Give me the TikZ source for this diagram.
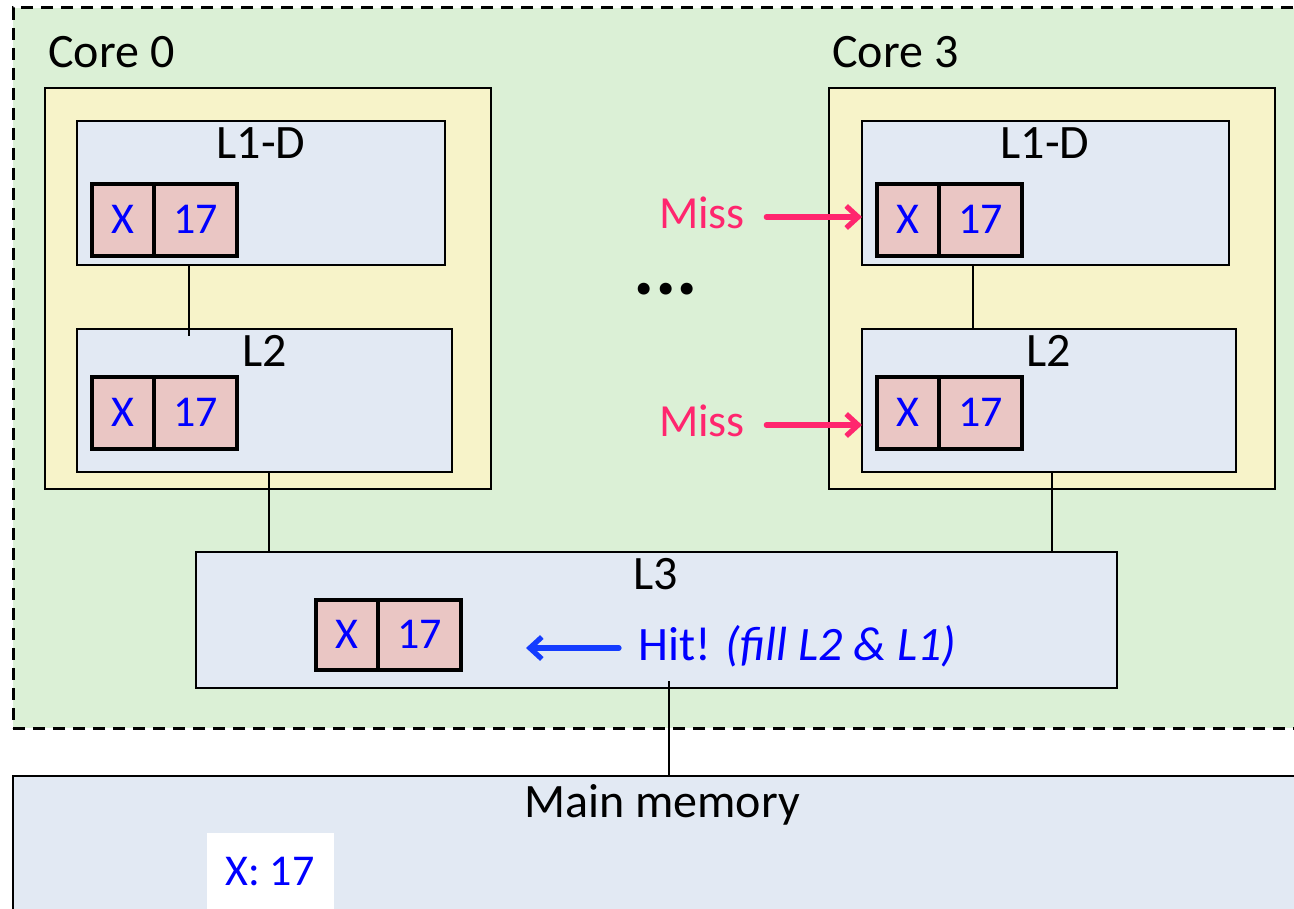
\documentclass[tikz,border=0pt]{standalone}
\usepackage{fontspec}
\setmainfont{Carlito}
\usetikzlibrary{arrows.meta}
\definecolor{chipgreen}{RGB}{219,240,214}
\definecolor{coreyellow}{RGB}{247,243,201}
\definecolor{cacheblue}{RGB}{226,233,243}
\definecolor{linepink}{RGB}{234,198,196}
\definecolor{misspink}{RGB}{255,38,110}
\definecolor{hitblue}{RGB}{20,60,255}
\tikzset{
  sz/.style 2 args={minimum width=#1*0.5pt,minimum height=#2*0.5pt},
  region/.style={draw=black,fill=chipgreen,dash pattern=on 6pt off 4pt,line width=1.5pt,inner sep=0pt,outer sep=0pt},
  corebox/.style={draw=black,fill=coreyellow,line width=1.2pt,inner sep=0pt,outer sep=0pt},
  cachebox/.style={draw=black,fill=cacheblue,line width=1.2pt,inner sep=0pt,outer sep=0pt},
  cell/.style={draw=black,fill=linepink,line width=2pt,inner sep=0pt,outer sep=0pt,text=blue,
    font=\fontsize{22}{26}\selectfont,text height=13.9pt,text depth=0pt},
  lbl/.style={inner sep=0pt,font=\fontsize{24}{28}\selectfont,text height=15.1pt,text depth=0pt},
  wire/.style={draw=black,line width=1pt},
  missarrow/.style={draw=misspink,line width=2.6pt,line cap=round,-{Straight Barb[length=6pt,width=11pt]}},
  hitarrow/.style={draw=hitblue,line width=2.6pt,line cap=round,-{Straight Barb[length=6pt,width=11pt]}}
}
\begin{document}
\begin{tikzpicture}[x=0.5pt,y=-0.5pt]
\useasboundingbox (0,0) rectangle (1294,909);

% chip area holding the cores and the shared L3
\node[region,sz={1300}{720},anchor=north west] (chip) at (13,8) {};

% main memory
\node[cachebox,line width=1.4pt,sz={1300}{160},anchor=north west] (mem) at (13,776) {};
\node[lbl] (memlbl) at (662,802) {Main memory};
\node[fill=white,inner sep=0pt,sz={127}{90},anchor=north west] (memslot) at (207,833) {};
\node[lbl,text=blue,font=\fontsize{22}{26}\selectfont,text height=13.9pt] (memval) at (270,872) {X: 17};

% core 0
\node[lbl,anchor=west] (core0lbl) at (48,52) {Core 0};
\node[corebox,sz={446}{401},anchor=north west] (core0) at (45,88) {};
\node[cachebox,sz={368}{144},anchor=north west] (l1d0) at (77,121) {};
\node[lbl] (l1d0lbl) at (261,143) {L1-D};
\node[cell,sz={62}{72},anchor=north west] (x10) at (92,184) {X};
\node[cell,sz={83}{72},anchor=north west] (v10) at (x10.north east) {17};
\node[cachebox,sz={375}{143},anchor=north west] (l2c0) at (77,329) {};
\node[lbl] (l2c0lbl) at (265,351) {L2};
\node[cell,sz={62}{72},anchor=north west] (x20) at (92,377) {X};
\node[cell,sz={83}{72},anchor=north west] (v20) at (x20.north east) {17};

% core 3
\node[lbl,anchor=west] (core3lbl) at (832,52) {Core 3};
\node[corebox,sz={446}{401},anchor=north west] (core3) at (829,88) {};
\node[cachebox,sz={367}{144},anchor=north west] (l1d3) at (862,121) {};
\node[lbl] (l1d3lbl) at (1045,143) {L1-D};
\node[cell,sz={62}{72},anchor=north west] (x13) at (877,184) {X};
\node[cell,sz={83}{72},anchor=north west] (v13) at (x13.north east) {17};
\node[cachebox,sz={374}{143},anchor=north west] (l2c3) at (862,329) {};
\node[lbl] (l2c3lbl) at (1049,351) {L2};
\node[cell,sz={62}{72},anchor=north west] (x23) at (877,377) {X};
\node[cell,sz={83}{72},anchor=north west] (v23) at (x23.north east) {17};

% shared L3
\node[cachebox,sz={921}{136},anchor=north west] (l3) at (196,552) {};
\node[lbl] (l3lbl) at (656,574) {L3};
\node[cell,sz={62}{70},anchor=north west] (x3) at (316,600) {X};
\node[cell,sz={83}{70},anchor=north west] (v3) at (x3.north east) {17};

% links between levels
\coordinate (tap01) at (189,336);
\coordinate (tap31) at (973,0);
\coordinate (tap02) at (269,0);
\coordinate (tap32) at (1052,0);
\coordinate (tapmem) at (669,681);
\draw[wire] (tap01 |- l1d0.south) -- (tap01);
\draw[wire] (tap31 |- l1d3.south) -- (tap31 |- l2c3.north);
\draw[wire] (tap02 |- l2c0.south) -- (tap02 |- l3.north);
\draw[wire] (tap32 |- l2c3.south) -- (tap32 |- l3.north);
\draw[wire] (tapmem) -- (tapmem |- mem.north);

% lookup annotations
\node[lbl,text=misspink,font=\fontsize{23}{27}\selectfont,text height=14.5pt] (miss1) at (702,214) {Miss};
\node[lbl,text=misspink,font=\fontsize{23}{27}\selectfont,text height=14.5pt] (miss2) at (702,422) {Miss};
\draw[missarrow] ([xshift=10.5pt,yshift=-1.5pt]miss1.east) -- ([yshift=-1.5pt]miss1.east -| l1d3.west);
\draw[missarrow] ([xshift=10.5pt,yshift=-1.5pt]miss2.east) -- ([yshift=-1.5pt]miss2.east -| l2c3.west);
\node[inner sep=0pt,font=\fontsize{40}{42}\selectfont\bfseries,anchor=base] (dots) at (666,294) {...};
\node[lbl,text=blue,anchor=west] (hit) at (638,645) {Hit! \textit{(fill L2 \& L1)}};
\draw[hitarrow] ([xshift=-9.5pt,yshift=-1.5pt]hit.west) -- ++(-46.5pt,0pt);
\end{tikzpicture}
\end{document}
